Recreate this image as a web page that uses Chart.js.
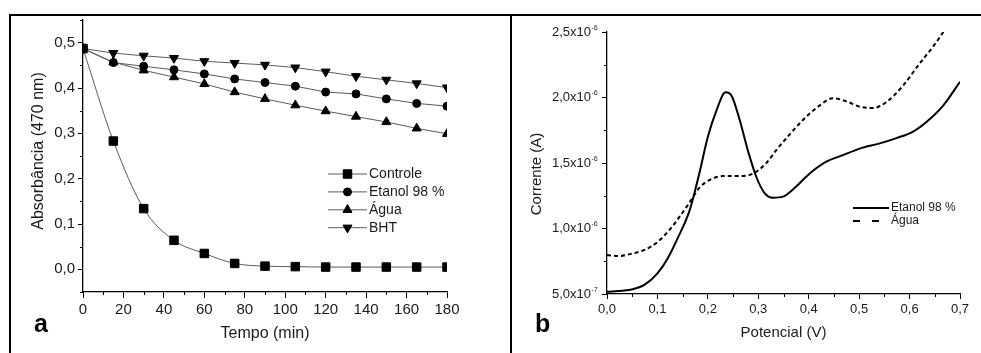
<!DOCTYPE html>
<html>
<head>
<meta charset="utf-8">
<script src="https://cdn.jsdelivr.net/npm/chart.js@4.4.0/dist/chart.umd.min.js"></script>
<style>
  body { margin: 0; background: #fff; }
  #wrap { position: relative; width: 981px; height: 353px; overflow: hidden; background: #fff; }
  canvas { position: absolute; top: 0; }
  #chartA { left: 0; }
  #chartB { left: 512px; }
  .rule { position: absolute; background: #000; }
  .tag { position: absolute; font: bold 25px "Liberation Sans", Arial, sans-serif; color: #000; line-height: 28px; }
</style>
</head>
<body>
<div id="wrap">
  <canvas id="chartA" width="510" height="353"></canvas>
  <canvas id="chartB" width="469" height="353"></canvas>
  <div class="rule" style="left:9px; top:14px; width:972px; height:2px"></div>
  <div class="rule" style="left:9px; top:14px; width:2px; height:339px"></div>
  <div class="rule" style="left:510px; top:14px; width:2px; height:339px"></div>
  <div class="tag" style="left:34px; top:309px">a</div>
  <div class="tag" style="left:535px; top:309px">b</div>
</div>
<script>
// (a) absorbância a 470 nm ao longo do tempo
const tempo = [0, 15, 30, 45, 60, 75, 90, 105, 120, 135, 150, 165, 180];
const controle = [0.487, 0.283, 0.134, 0.064, 0.035, 0.013, 0.007, 0.006, 0.005, 0.005, 0.005, 0.005, 0.005];
const etanol = [0.487, 0.456, 0.448, 0.440, 0.431, 0.420, 0.412, 0.404, 0.391, 0.387, 0.376, 0.366, 0.360];
const agua = [0.487, 0.457, 0.439, 0.424, 0.409, 0.391, 0.376, 0.362, 0.349, 0.337, 0.325, 0.311, 0.299];
const bht = [0.487, 0.477, 0.471, 0.466, 0.459, 0.455, 0.451, 0.445, 0.436, 0.426, 0.418, 0.410, 0.401];
const tempoTicks = [0, 20, 40, 60, 80, 100, 120, 140, 160, 180];
const absorbanciaTicks = [0, 0.1, 0.2, 0.3, 0.4, 0.5];

// (b) voltametria: corrente (A) x potencial (V)
const potencialEtanol = [0, 0.031, 0.051, 0.074, 0.1, 0.12, 0.14, 0.164, 0.183, 0.2, 0.217, 0.235, 0.246, 0.263, 0.279, 0.296, 0.3125, 0.329, 0.349, 0.375, 0.402, 0.435, 0.468, 0.501, 0.541, 0.574, 0.607, 0.634, 0.667, 0.7];
const correnteEtanol = [0.518e-6, 0.525e-6, 0.536e-6, 0.569e-6, 0.658e-6, 0.77e-6, 0.925e-6, 1.14e-6, 1.42e-6, 1.70e-6, 1.90e-6, 2.04e-6, 2.02e-6, 1.83e-6, 1.60e-6, 1.395e-6, 1.27e-6, 1.235e-6, 1.243e-6, 1.32e-6, 1.42e-6, 1.51e-6, 1.56e-6, 1.61e-6, 1.65e-6, 1.69e-6, 1.74e-6, 1.815e-6, 1.94e-6, 2.12e-6];
const potencialAgua = [0, 0.024, 0.051, 0.074, 0.097, 0.124, 0.144, 0.164, 0.183, 0.203, 0.23, 0.263, 0.29, 0.316, 0.336, 0.356, 0.389, 0.422, 0.448, 0.475, 0.501, 0.528, 0.554, 0.587, 0.62, 0.647, 0.667];
const correnteAgua = [0.798e-6, 0.79e-6, 0.81e-6, 0.836e-6, 0.887e-6, 0.99e-6, 1.09e-6, 1.20e-6, 1.31e-6, 1.37e-6, 1.40e-6, 1.40e-6, 1.42e-6, 1.50e-6, 1.60e-6, 1.69e-6, 1.83e-6, 1.94e-6, 1.995e-6, 1.97e-6, 1.93e-6, 1.92e-6, 1.965e-6, 2.09e-6, 2.26e-6, 2.39e-6, 2.50e-6];
const potencialTicks = [0, 0.1, 0.2, 0.3, 0.4, 0.5, 0.6, 0.7];
const correnteTicks = [5e-7, 1e-6, 1.5e-6, 2e-6, 2.5e-6];

Chart.defaults.font.family = '"Liberation Sans", Arial, sans-serif';
Chart.defaults.color = '#1a1a1a';

const toXY = (xs, ys) => xs.map((x, i) => ({ x: x, y: ys[i] }));
const fixedTicks = list => s => { s.ticks = list.map(v => ({ value: v })); };
const decimal = v => v.toFixed(1).replace('.', ',');

// ticks menores (sem rótulo) entre os principais
const minorTicks = {
  id: 'minorTicks',
  afterDraw(chart, args, opts) {
    const ctx = chart.ctx;
    ctx.save();
    ctx.strokeStyle = '#000';
    ctx.lineWidth = 1;
    Object.keys(opts.steps || {}).forEach(id => {
      const s = chart.scales[id];
      const step = opts.steps[id];
      const n = Math.round((s.max - s.min) / step);
      for (let i = 0; i <= n; i++) {
        const v = s.min + i * step;
        if (s.ticks.some(t => Math.abs(t.value - v) < step / 10)) continue;
        ctx.beginPath();
        if (s.isHorizontal()) {
          const x = Math.round(s.getPixelForValue(v)) + 0.5;
          ctx.moveTo(x, s.top);
          ctx.lineTo(x, s.top + opts.length);
        } else {
          const y = Math.round(s.getPixelForValue(v)) + 0.5;
          ctx.moveTo(s.right, y);
          ctx.lineTo(s.right - opts.length, y);
        }
        ctx.stroke();
      }
    });
    ctx.restore();
  }
};

// título vertical do eixo y, posicionado livremente
const sideTitle = {
  id: 'sideTitle',
  afterDraw(chart, args, opts) {
    const ctx = chart.ctx;
    ctx.save();
    ctx.translate(opts.x, opts.y);
    ctx.rotate(-Math.PI / 2);
    ctx.font = opts.font;
    ctx.fillStyle = opts.color;
    ctx.textAlign = 'center';
    ctx.textBaseline = 'middle';
    ctx.fillText(opts.text, 0, 0);
    ctx.restore();
  }
};

// legenda desenhada dentro da área do gráfico
const inlineLegend = {
  id: 'inlineLegend',
  afterDatasetsDraw(chart, args, opts) {
    const ctx = chart.ctx;
    ctx.save();
    chart.data.datasets.forEach((ds, i) => {
      const y = opts.y + i * opts.row;
      const x0 = opts.x, x1 = opts.x + opts.length;
      ctx.strokeStyle = ds.borderColor;
      ctx.lineWidth = ds.borderWidth;
      ctx.setLineDash((opts.dash && opts.dash[i]) || []);
      ctx.beginPath();
      ctx.moveTo(x0, y);
      ctx.lineTo(x1, y);
      ctx.stroke();
      ctx.setLineDash([]);
      if (ds.pointRadius > 0) {
        ctx.fillStyle = ds.pointBackgroundColor;
        ctx.strokeStyle = ds.pointBorderColor;
        ctx.lineWidth = 1;
        Chart.helpers.drawPoint(ctx, {
          pointStyle: ds.pointStyle, rotation: ds.pointRotation || 0,
          radius: ds.pointRadius, borderWidth: 1
        }, (x0 + x1) / 2, y);
      }
      ctx.fillStyle = opts.color;
      ctx.font = opts.font;
      ctx.textAlign = 'left';
      ctx.textBaseline = 'middle';
      ctx.fillText(ds.label, x1 + opts.gap, y);
    });
    ctx.restore();
  }
};

// expoente pequeno ao lado de "x10" nos rótulos do eixo y
const sciExponent = {
  id: 'sciExponent',
  afterDraw(chart, args, opts) {
    const s = chart.scales.y;
    const ctx = chart.ctx;
    ctx.save();
    ctx.font = opts.font;
    ctx.fillStyle = opts.color;
    ctx.textAlign = 'left';
    ctx.textBaseline = 'middle';
    s.ticks.forEach(t => {
      const e = Math.floor(Math.log10(t.value) + 1e-9);
      const y = s.getPixelForValue(t.value);
      ctx.fillText(String(e), s.right - opts.offset, y + opts.rise);
    });
    ctx.restore();
  }
};

const markerStyle = (style, radius, rotation) => ({
  pointStyle: style, pointRadius: radius, pointHoverRadius: radius, pointRotation: rotation || 0,
  pointBackgroundColor: '#000', pointBorderColor: '#000', pointBorderWidth: 1,
  borderColor: '#5a5a5a', borderWidth: 1, fill: false
});

new Chart(document.getElementById('chartA'), {
  type: 'line',
  data: {
    datasets: [
      Object.assign({ label: 'Controle', data: toXY(tempo, controle), cubicInterpolationMode: 'monotone' }, markerStyle('rect', 6)),
      Object.assign({ label: 'Etanol 98 %', data: toXY(tempo, etanol) }, markerStyle('circle', 4)),
      Object.assign({ label: 'Água', data: toXY(tempo, agua) }, markerStyle('triangle', 5.2)),
      Object.assign({ label: 'BHT', data: toXY(tempo, bht) }, markerStyle('triangle', 5.2, 180))
    ]
  },
  options: {
    responsive: false,
    animation: false,
    layout: { padding: { left: 0, right: 63, top: 20, bottom: 0 } },
    plugins: {
      legend: { display: false },
      tooltip: { enabled: false },
      minorTicks: { steps: { x: 10, y: 0.05 }, length: 3 },
      sideTitle: { text: 'Absorbância (470 nm)', x: 39, y: 151, font: '16px "Liberation Sans", Arial, sans-serif', color: '#1a1a1a' },
      inlineLegend: { x: 328, y: 174, row: 17.9, length: 39, gap: 2, font: '14px "Liberation Sans", Arial, sans-serif', color: '#1a1a1a' }
    },
    scales: {
      x: {
        type: 'linear', min: 0, max: 180,
        afterBuildTicks: fixedTicks(tempoTicks),
        afterFit: s => { s.height = 61; },
        border: { color: '#000', width: 1.3 },
        grid: { drawOnChartArea: false, drawTicks: true, tickLength: 6, tickColor: '#000', tickWidth: 1 },
        ticks: { padding: 3, maxRotation: 0, autoSkip: false, font: { size: 15 } },
        title: { display: true, text: 'Tempo (min)', font: { size: 16 }, padding: { top: 0, bottom: 10 } }
      },
      y: {
        type: 'linear', min: -0.05, max: 0.55,
        afterBuildTicks: fixedTicks(absorbanciaTicks),
        afterFit: s => { s.width = 83; },
        border: { color: '#000', width: 1.3 },
        grid: { drawOnChartArea: false, drawTicks: true, tickLength: 5, tickColor: '#000', tickWidth: 1 },
        ticks: { padding: 3, autoSkip: false, font: { size: 15 }, callback: decimal }
      }
    }
  },
  plugins: [minorTicks, sideTitle, inlineLegend]
});

new Chart(document.getElementById('chartB'), {
  type: 'line',
  data: {
    datasets: [
      { label: 'Etanol 98 %', data: toXY(potencialEtanol, correnteEtanol), borderColor: '#000', borderWidth: 2,
        pointRadius: 0, fill: false, cubicInterpolationMode: 'monotone' },
      { label: 'Água', data: toXY(potencialAgua, correnteAgua), borderColor: '#000', borderWidth: 2,
        borderDash: [4, 3], pointRadius: 0, fill: false, cubicInterpolationMode: 'monotone' }
    ]
  },
  options: {
    responsive: false,
    animation: false,
    layout: { padding: { left: 0, right: 21, top: 32, bottom: 0 } },
    plugins: {
      legend: { display: false },
      tooltip: { enabled: false },
      minorTicks: { steps: { x: 0.05, y: 2.5e-7 }, length: 3 },
      sideTitle: { text: 'Corrente (A)', x: 25, y: 174, font: '15px "Liberation Sans", Arial, sans-serif', color: '#1a1a1a' },
      inlineLegend: { x: 341, y: 208, row: 13, length: 36, gap: 2, dash: [[], [7, 12]], font: '12px "Liberation Sans", Arial, sans-serif', color: '#1a1a1a' },
      sciExponent: { offset: 15.5, rise: -4, font: '7px "Liberation Sans", Arial, sans-serif', color: '#1a1a1a' }
    },
    scales: {
      x: {
        type: 'linear', min: 0, max: 0.7,
        afterBuildTicks: fixedTicks(potencialTicks),
        afterFit: s => { s.height = 59; },
        border: { color: '#000', width: 1.3 },
        grid: { drawOnChartArea: false, drawTicks: true, tickLength: 5, tickColor: '#000', tickWidth: 1 },
        ticks: { padding: 3, maxRotation: 0, autoSkip: false, font: { size: 13 }, callback: decimal },
        title: { display: true, text: 'Potencial (V)', font: { size: 15 }, padding: { top: 0, bottom: 11 } }
      },
      y: {
        type: 'linear', min: 5e-7, max: 2.5e-6,
        afterBuildTicks: fixedTicks(correnteTicks),
        afterFit: s => { s.width = 95; },
        border: { color: '#000', width: 1.3 },
        grid: { drawOnChartArea: false, drawTicks: true, tickLength: 5, tickColor: '#000', tickWidth: 1 },
        ticks: { padding: 11, autoSkip: false, font: { size: 13 },
          callback: v => {
            const e = Math.floor(Math.log10(v) + 1e-9);
            return decimal(v / Math.pow(10, e)) + 'x10';
          } }
      }
    }
  },
  plugins: [minorTicks, sideTitle, inlineLegend, sciExponent]
});
</script>
</body>
</html>
